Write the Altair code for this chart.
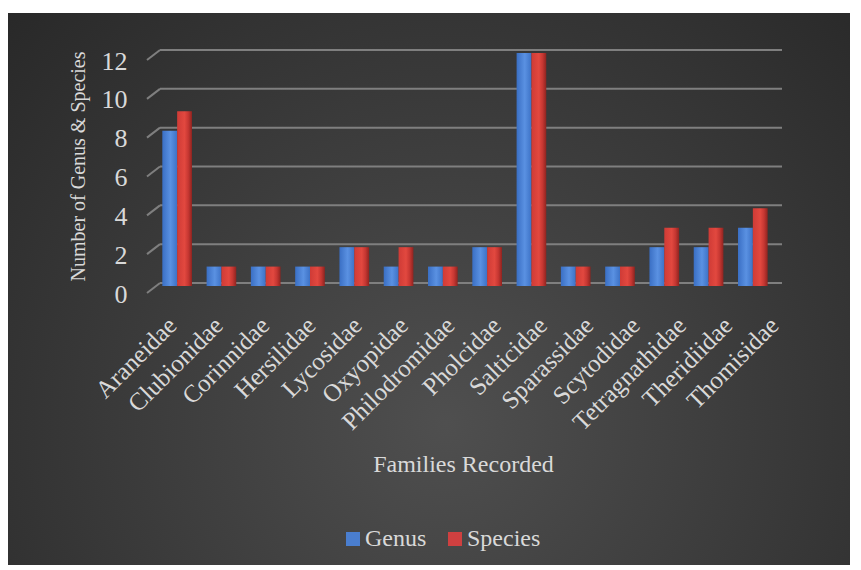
import altair as alt
import pandas as pd

families = ["Araneidae", "Clubionidae", "Corinnidae", "Hersilidae", "Lycosidae",
            "Oxyopidae", "Philodromidae", "Pholcidae", "Salticidae", "Sparassidae",
            "Scytodidae", "Tetragnathidae", "Theridiidae", "Thomisidae"]
genus = [8, 1, 1, 1, 2, 1, 1, 2, 12, 1, 1, 2, 2, 3]
species = [9, 1, 1, 1, 2, 2, 1, 2, 12, 1, 1, 3, 3, 4]
series_names = ["Genus", "Species"]
y_ticks = [0, 2, 4, 6, 8, 10, 12]

legend_colors = ["#4a7ecf", "#cf4040"]

rows = []
for f, g, s in zip(families, genus, species):
    rows.append({"family": f, "series": "Genus", "value": g})
    rows.append({"family": f, "series": "Species", "value": s})
df = pd.DataFrame(rows)
grid_df = pd.DataFrame({"v": y_ticks})
fam_df = pd.DataFrame({"family": families})

W, H = 620, 233
TXT = "#d9d9d9"
GRID = "#7f7f7f"

yscale = alt.Scale(domain=[0, 12], nice=False, zero=True)
xscale = alt.Scale(paddingInner=0.33, paddingOuter=0.165)
# category labels sit on the perspective front edge, which is slightly wider
label_scale = alt.Scale(type="point", range=[21, 623], padding=0)
oscale = alt.Scale(domain=series_names, paddingInner=0)

x_axis = alt.Axis(title="Families Recorded", labelAngle=-45, labelAlign="right",
                  labelBaseline="middle", labelFontSize=25, labelColor=TXT,
                  labelPadding=38, labelOffset=-4, labelOverlap=False,
                  domain=False, ticks=False, grid=False, zindex=2,
                  titleFontSize=24, titleColor=TXT, titleFontWeight="normal",
                  titleX=308, titleY=181, titleAlign="center", titleBaseline="middle")
y_axis = alt.Axis(title="Number of Genus & Species", values=y_ticks,
                  labelFontSize=26, labelColor=TXT, labelPadding=28, labelOffset=11,
                  domain=False, ticks=False, grid=False, zindex=2,
                  titleFontSize=20, titleColor=TXT, titleFontWeight="normal",
                  titleX=-77, titleY=116, titleAngle=270,
                  titleAlign="center", titleBaseline="middle")

bg_gradient = {
    "gradient": "radial",
    "x1": 0.52, "y1": 0.66, "r1": 0,
    "x2": 0.52, "y2": 0.66, "r2": 0.8,
    "stops": [
        {"offset": 0, "color": "#4f4f4f"},
        {"offset": 1, "color": "#242424"},
    ],
}
blue_grad = {
    "gradient": "linear", "x1": 0, "y1": 0, "x2": 1, "y2": 0,
    "stops": [
        {"offset": 0, "color": "#3a6fc4"},
        {"offset": 0.55, "color": "#5a91e2"},
        {"offset": 1, "color": "#3d72c6"},
    ],
}
red_grad = {
    "gradient": "linear", "x1": 0, "y1": 0, "x2": 1, "y2": 0,
    "stops": [
        {"offset": 0, "color": "#cf3b36"},
        {"offset": 0.5, "color": "#e2483f"},
        {"offset": 0.75, "color": "#c63732"},
        {"offset": 1, "color": "#8e2420"},
    ],
}

bg = alt.Chart(pd.DataFrame({"k": [0]})).mark_rect(color=bg_gradient).encode(
    x=alt.value(-147), x2=alt.value(W + 75),
    y=alt.value(-37), y2=alt.value(H + 282),
)

grid = alt.Chart(grid_df).mark_rule(color=GRID, strokeWidth=2).encode(
    y=alt.Y("v:Q", scale=yscale, axis=y_axis),
    x=alt.value(5), x2=alt.value(W + 7),
)

diag = alt.Chart(grid_df).mark_rule(color=GRID, strokeWidth=2, yOffset=10).encode(
    y=alt.Y("v:Q", scale=yscale, axis=y_axis),
    y2=alt.Y2("v:Q"),
    x=alt.value(-8), x2=alt.value(5),
)


def bar_layer(name, grad):
    return alt.Chart(df).transform_filter(alt.datum.series == name).mark_bar(
        color=grad, yOffset=3, y2Offset=6
    ).encode(
        x=alt.X("family:N", sort=families, scale=xscale, axis=None),
        xOffset=alt.XOffset("series:N", sort=series_names, scale=oscale),
        y=alt.Y("value:Q", scale=yscale, axis=y_axis),
    )


genus_bars = bar_layer("Genus", blue_grad)
species_bars = bar_layer("Species", red_grad)

labels = alt.Chart(fam_df).mark_point(opacity=0).encode(
    x=alt.X("family:N", sort=families, scale=label_scale, axis=x_axis),
    y=alt.value(H),
)

legend_src = alt.Chart(df).mark_bar(opacity=0).encode(
    x=alt.X("family:N", sort=families, scale=xscale, axis=None),
    xOffset=alt.XOffset("series:N", sort=series_names, scale=oscale),
    y=alt.Y("value:Q", scale=yscale, axis=y_axis),
    color=alt.Color("series:N",
                    scale=alt.Scale(domain=series_names, range=legend_colors),
                    legend=alt.Legend(orient="none", legendX=186, legendY=477,
                                      direction="horizontal", title=None,
                                      symbolType="square", symbolSize=196,
                                      symbolStrokeWidth=0, symbolOpacity=1,
                                      labelFontSize=24, labelColor=TXT, labelOffset=0,
                                      columnPadding=16, padding=0, zindex=2)),
)

chart = alt.layer(bg, grid, diag, genus_bars, species_bars, legend_src, labels).resolve_scale(
    x="independent"
).properties(
    width=W, height=H,
    autosize=alt.AutoSizeParams(type="none"),
    padding={"left": 155, "top": 50, "right": 86, "bottom": 287},
).configure(background="white", font="Liberation Serif").configure_view(stroke=None)

chart.save("out.html", embed_options={"renderer": "svg", "actions": False})
